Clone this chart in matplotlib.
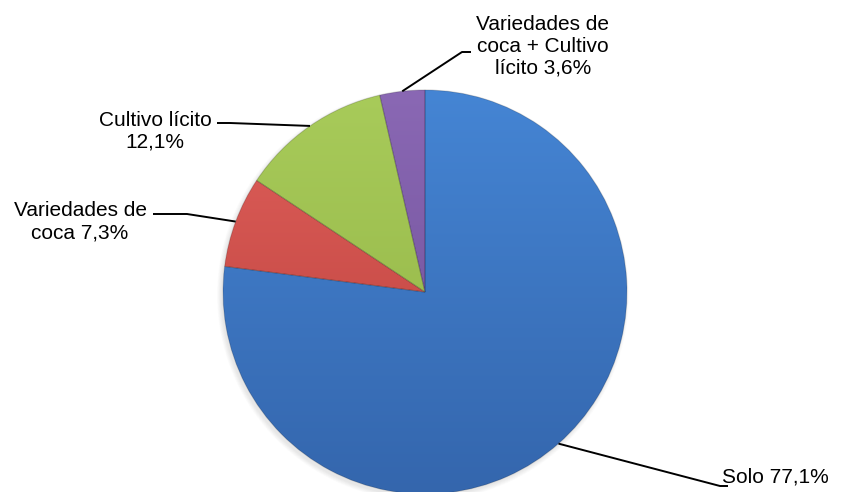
import numpy as np
import matplotlib.pyplot as plt
from matplotlib.colors import to_rgb
from matplotlib.patches import Circle

# Datos del gráfico
categorias = ["Solo", "Variedades de coca", "Cultivo lícito", "Variedades de coca + Cultivo lícito"]
porcentajes = [77.1, 7.3, 12.1, 3.6]
etiquetas = ["Solo 77,1%", "Variedades de\ncoca 7,3%", "Cultivo lícito\n12,1%",
             "Variedades de\ncoca + Cultivo\nlícito 3,6%"]

# Colores (claro arriba, oscuro abajo)
col_claro = ["#4585d4", "#e0605b", "#a8cb5a", "#8a68b4"]
col_oscuro = ["#3466ad", "#b83e3a", "#91b244", "#6c4d95"]

W, H = 846, 492
fig = plt.figure(figsize=(W / 100, H / 100), dpi=100)
ax = fig.add_axes([0, 0, 1, 1])

cx, cy, R = 425, H - 292, 202

# Sombra suave del pastel
for k in range(8):
    ax.add_patch(Circle((cx - 2, cy - 3), R + 4 - k * 0.6, color="black",
                        alpha=0.012, lw=0, zorder=0))

wedges, _ = ax.pie(porcentajes, startangle=90, counterclock=False,
                   center=(cx, cy), radius=R, colors=col_claro)

# Degradado vertical dentro de cada sector
yy = np.linspace(0, 1, 256)[:, None]
for w, c1, c2 in zip(wedges, col_claro, col_oscuro):
    a, b = np.array(to_rgb(c1)), np.array(to_rgb(c2))
    img = (a * (1 - yy[..., None]) + b * yy[..., None]) * np.ones((1, 2, 1))
    im = ax.imshow(img, extent=(cx - R, cx + R, cy - R, cy + R),
                   origin="upper", zorder=2, interpolation="bilinear")
    im.set_clip_path(w)
    w.set_zorder(3)
    w.set_facecolor("none")
    w.set_edgecolor("#00000028")
    w.set_linewidth(0.8)

# Posición de texto y codo de la línea guía (píxeles)
pos_texto = [(722, 477), (80, 222), (155, 131), (543, 46)]
alineacion = ["left", "center", "center", "center"]
codos = [[(720, 486), (728, 486)],
         [(187, 214), (153, 214)],
         [(230, 123), (217, 123)],
         [(462, 52), (471, 52)]]

for w, txt, (tx, ty), ha, codo in zip(wedges, etiquetas, pos_texto, alineacion, codos):
    ang = np.deg2rad((w.theta1 + w.theta2) / 2)
    x0, y0 = cx + R * np.cos(ang), cy + R * np.sin(ang)
    xs = [x0] + [p[0] for p in codo]
    ys = [y0] + [H - p[1] for p in codo]
    ax.plot(xs, ys, color="black", lw=1.4, zorder=5, solid_capstyle="butt")
    ax.text(tx, H - ty, txt, ha=ha, va="center", fontsize=15,
            family="Liberation Sans", color="black", linespacing=1.2, zorder=6)

ax.set_xlim(0, W)
ax.set_ylim(0, H)
ax.set_aspect("equal")
ax.axis("off")

fig.savefig("out.png", dpi=100)
